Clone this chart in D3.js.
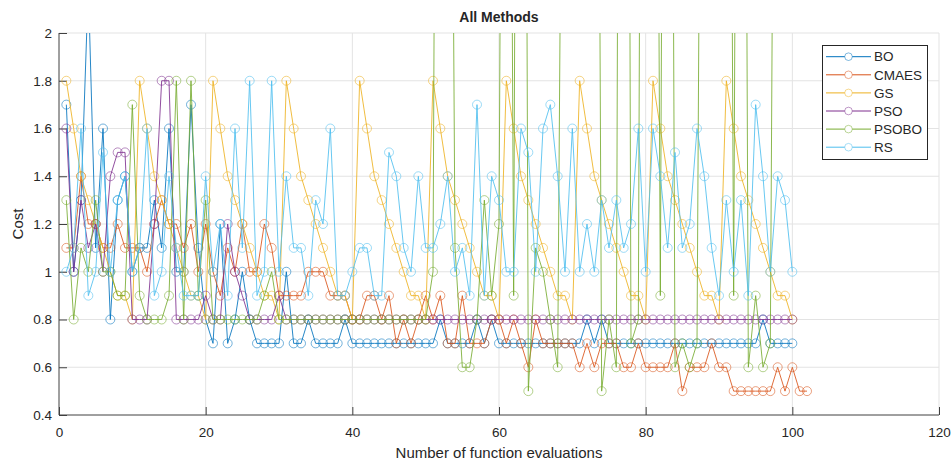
<!DOCTYPE html>
<html>
<head>
<meta charset="utf-8">
<script src="https://cdn.jsdelivr.net/npm/d3@7"></script>
<style>
  body { margin: 0; background: #fff; }
  text { font-family: "Liberation Sans", Arial, sans-serif; fill: #262626; }
</style>
</head>
<body>
<div id="chart"></div>
<script>
// series names + matlab default colours
const methods = ["BO", "CMAES", "GS", "PSO", "PSOBO", "RS"];
const colors = ["#0072BD", "#D95319", "#EDB120", "#7E2F8E", "#77AC30", "#4DBEEE"];

// cost per function evaluation (x = 1, 2, 3 ...)
const bo = [
  1.7, 1.0, 1.3, 2.2, 1.1, 1.6, 0.8, 1.3, 1.4, 1.0,
  1.1, 1.1, 1.3, 1.1, 1.6, 1.0, 1.0, 1.7, 1.1, 0.8,
  0.7, 1.2, 0.7, 0.8, 1.0, 0.8, 0.7, 0.7, 0.7, 0.7,
  1.0, 0.7, 0.7, 0.8, 0.7, 0.7, 0.7, 0.7, 0.8, 0.7,
  0.7, 0.7, 0.7, 0.7, 0.7, 0.7, 0.7, 0.7, 0.7, 0.7,
  0.7, 0.8, 0.7, 0.7, 0.7, 0.7, 0.8, 0.7, 0.8, 0.7,
  0.7, 0.7, 0.7, 0.7, 0.7, 0.7, 0.7, 0.7, 0.7, 0.7,
  0.7, 0.8, 0.7, 0.8, 0.7, 0.7, 0.7, 0.7, 0.7, 0.7,
  0.7, 0.7, 0.7, 0.7, 0.7, 0.7, 0.7, 0.7, 0.7, 0.7,
  0.7, 0.7, 0.7, 0.7, 0.7, 0.8, 0.7, 0.7, 0.7, 0.7
];
const cmaes = [
  1.1, 1.1, 1.4, 1.2, 1.2, 1.1, 1.1, 1.2, 1.1, 1.1,
  1.1, 1.0, 1.2, 1.3, 1.2, 1.2, 1.1, 1.2, 1.0, 1.2,
  1.0, 0.9, 1.1, 1.0, 1.2, 1.0, 1.0, 1.2, 1.1, 0.9,
  0.9, 0.9, 0.9, 1.0, 1.0, 1.0, 0.9, 0.9, 0.9, 0.8,
  0.8, 0.9, 0.9, 0.8, 0.9, 0.7, 0.8, 0.7, 0.8, 0.9,
  0.8, 0.9, 0.7, 0.7, 0.9, 0.7, 0.7, 0.7, 0.8, 0.8,
  0.7, 0.8, 0.7, 0.6, 0.8, 0.7, 0.7, 0.7, 0.7, 0.7,
  0.6, 0.7, 0.6, 0.7, 0.7, 0.7, 0.6, 0.6, 0.7, 0.6,
  0.6, 0.6, 0.6, 0.7, 0.5, 0.6, 0.6, 0.6, 0.7, 0.6,
  0.6, 0.5, 0.5, 0.5, 0.5, 0.5, 0.5, 0.6, 0.5, 0.6,
  0.5, 0.5
];
const gs = [
  1.8, 1.6, 1.4, 1.3, 1.2, 1.1, 1.0, 0.9, 0.9, 0.8,
  1.8, 1.6, 1.4, 1.3, 1.2, 1.1, 1.0, 0.9, 0.9, 0.8,
  1.8, 1.6, 1.4, 1.3, 1.2, 1.1, 1.0, 0.9, 0.9, 0.8,
  1.8, 1.6, 1.4, 1.3, 1.2, 1.1, 1.0, 0.9, 0.9, 0.8,
  1.8, 1.6, 1.4, 1.3, 1.2, 1.1, 1.0, 0.9, 0.9, 0.8,
  1.8, 1.6, 1.4, 1.3, 1.2, 1.1, 1.0, 0.9, 0.9, 0.8,
  1.8, 1.6, 1.4, 1.3, 1.2, 1.1, 1.0, 0.9, 0.9, 0.8,
  1.8, 1.6, 1.4, 1.3, 1.2, 1.1, 1.0, 0.9, 0.9, 0.8,
  1.8, 1.6, 1.4, 1.3, 1.2, 1.1, 1.0, 0.9, 0.9, 0.8,
  1.8, 1.6, 1.4, 1.3, 1.2, 1.1, 1.0, 0.9, 0.9, 0.8
];
const pso = [
  1.6, 1.0, 1.3, 1.1, 1.2, 1.0, 1.4, 1.5, 1.5, 0.8,
  0.8, 0.8, 1.2, 1.8, 1.8, 0.8, 0.8, 0.8, 0.8, 0.9,
  0.8, 0.8, 1.2, 1.0, 0.9, 0.8, 0.8, 0.8, 0.8, 0.9,
  0.8, 0.8, 0.8, 0.8, 0.8, 0.8, 0.8, 0.8, 0.8, 0.8,
  0.8, 0.8, 0.8, 0.8, 0.8, 0.8, 0.8, 0.8, 0.8, 0.8,
  0.8, 0.8, 0.8, 0.8, 0.8, 0.8, 0.8, 0.8, 0.8, 0.8,
  0.8, 0.8, 0.8, 0.8, 0.8, 0.8, 0.8, 0.8, 0.8, 0.8,
  0.8, 0.8, 0.8, 0.8, 0.8, 0.8, 0.8, 0.8, 0.8, 0.8,
  0.8, 0.8, 0.8, 0.8, 0.8, 0.8, 0.8, 0.8, 0.8, 0.8,
  0.8, 0.8, 0.8, 0.8, 0.8, 0.8, 0.8, 0.8, 0.8, 0.8
];
// values above 2 run off the top of the axes
const psobo = [
  1.3, 0.8, 1.1, 1.0, 1.3, 1.0, 1.0, 0.9, 0.9, 1.7,
  0.9, 0.8, 0.8, 0.8, 0.9, 1.8, 0.8, 1.8, 0.9, 1.3,
  0.8, 0.8, 0.8, 0.8, 0.8, 0.8, 0.8, 0.9, 1.0, 0.8,
  0.8, 0.8, 0.8, 0.8, 0.8, 0.8, 0.8, 0.8, 0.8, 0.8,
  0.8, 0.8, 0.8, 0.8, 0.8, 0.8, 0.8, 0.8, 0.8, 0.8,
  1.0, 8.0, 6.0, 1.1, 0.6, 0.6, 0.8, 1.3, 0.9, 1.2,
  7.0, 0.9, 9.0, 0.5, 1.1, 1.0, 0.8, 0.6, 5.0, 8.0,
  6.0, 9.0, 7.0, 0.5, 0.8, 0.6, 10.0, 0.7, 0.8, 9.0,
  7.0, 0.9, 8.0, 0.6, 0.7, 0.6, 0.7, 6.0, 8.0, 9.0,
  7.0, 0.9, 8.0, 0.6, 0.9, 0.6, 0.7, 6.0, 8.0, 7.0
];
const rs = [
  1.0, 1.1, 1.6, 0.9, 1.0, 1.5, 1.0, 1.3, 1.4, 1.0,
  1.1, 1.6, 0.9, 1.0, 1.4, 1.1, 0.9, 0.9, 0.9, 1.4,
  1.0, 1.2, 0.9, 1.6, 1.1, 1.8, 0.9, 1.0, 1.8, 1.0,
  1.4, 1.1, 1.1, 0.9, 1.3, 1.2, 1.6, 0.9, 0.9, 1.0,
  1.1, 1.1, 0.9, 0.9, 1.5, 1.4, 1.1, 1.0, 1.4, 1.1,
  1.1, 1.2, 1.4, 1.0, 1.1, 0.9, 1.7, 0.9, 1.4, 1.3,
  1.0, 1.0, 1.6, 1.5, 1.0, 1.6, 1.7, 1.4, 1.0, 1.6,
  1.0, 1.2, 1.0, 1.3, 1.1, 1.3, 1.1, 1.2, 1.6, 1.0,
  1.6, 1.4, 1.1, 1.5, 1.1, 1.2, 1.6, 1.4, 1.1, 0.9,
  1.3, 1.0, 1.3, 0.9, 1.7, 1.4, 1.0, 1.4, 1.3, 1.0
];

const xTicks = [0, 20, 40, 60, 80, 100, 120];
const yTicks = [0.4, 0.6, 0.8, 1, 1.2, 1.4, 1.6, 1.8, 2];

const allSeries = [bo, cmaes, gs, pso, psobo, rs].map((values, i) => ({
  name: methods[i],
  color: colors[i],
  values: values.map((v, j) => ({ x: j + 1, y: v }))
}));

// svg setup
const width = 951;
const height = 462;
const margin = { top: 33, right: 12, bottom: 47, left: 59 };

const svg = d3
  .select("#chart")
  .append("svg")
  .attr("width", width)
  .attr("height", height);

const xScale = d3.scaleLinear().domain([0, 120]).range([margin.left, width - margin.right]);
const yScale = d3.scaleLinear().domain([0.4, 2]).range([height - margin.bottom, margin.top]);

// grid
svg
  .append("g")
  .selectAll("line")
  .data(xTicks.slice(1))
  .enter()
  .append("line")
  .attr("x1", (d) => xScale(d))
  .attr("x2", (d) => xScale(d))
  .attr("y1", yScale(0.4))
  .attr("y2", yScale(2))
  .attr("stroke", "#e3e3e3");

svg
  .append("g")
  .selectAll("line")
  .data(yTicks.slice(1))
  .enter()
  .append("line")
  .attr("x1", xScale(0))
  .attr("x2", xScale(120))
  .attr("y1", (d) => yScale(d))
  .attr("y2", (d) => yScale(d))
  .attr("stroke", "#e3e3e3");

// axes, ticks pointing inward like matlab
const xAxis = svg
  .append("g")
  .attr("transform", `translate(0, ${yScale(0.4)})`)
  .call(d3.axisTop(xScale).tickValues(xTicks).tickSize(8).tickFormat(d3.format("d")));
xAxis.select(".domain").attr("stroke", "#404040").attr("d", `M${xScale(0)},0H${xScale(120)}`);
xAxis.selectAll(".tick line").attr("stroke", "#404040");
xAxis
  .selectAll(".tick text")
  .attr("y", 22)
  .attr("dy", null)
  .attr("font-size", "13.5px")
  .attr("fill", "#262626");

const yAxis = svg
  .append("g")
  .attr("transform", `translate(${xScale(0)}, 0)`)
  .call(d3.axisRight(yScale).tickValues(yTicks).tickSize(8).tickFormat(d3.format("~g")));
yAxis.select(".domain").attr("stroke", "#404040").attr("d", `M0,${yScale(0.4)}V${yScale(2)}`);
yAxis.selectAll(".tick line").attr("stroke", "#404040");
yAxis
  .selectAll(".tick text")
  .attr("x", -7)
  .attr("text-anchor", "end")
  .attr("font-size", "13.5px")
  .attr("fill", "#262626");

// clip to plot area
svg
  .append("clipPath")
  .attr("id", "plot-clip")
  .append("rect")
  .attr("x", xScale(0))
  .attr("y", yScale(2))
  .attr("width", xScale(120) - xScale(0))
  .attr("height", yScale(0.4) - yScale(2));

const plot = svg.append("g").attr("clip-path", "url(#plot-clip)");

const line = d3
  .line()
  .x((d) => xScale(d.x))
  .y((d) => yScale(d.y));

allSeries.forEach((s) => {
  const g = plot.append("g");
  g.append("path")
    .datum(s.values)
    .attr("fill", "none")
    .attr("stroke", s.color)
    .attr("stroke-opacity", 0.85)
    .attr("stroke-width", 1)
    .attr("d", line);

  g.selectAll("circle")
    .data(s.values)
    .enter()
    .append("circle")
    .attr("cx", (d) => xScale(d.x))
    .attr("cy", (d) => yScale(d.y))
    .attr("r", 4.5)
    .attr("fill", "none")
    .attr("stroke", s.color)
    .attr("stroke-opacity", 0.55)
    .attr("stroke-width", 1);
});

// labels
svg
  .append("text")
  .attr("x", (xScale(0) + xScale(120)) / 2)
  .attr("y", 22)
  .attr("text-anchor", "middle")
  .attr("font-size", "14px")
  .attr("font-weight", "bold")
  .text("All Methods");

svg
  .append("text")
  .attr("x", (xScale(0) + xScale(120)) / 2)
  .attr("y", 458)
  .attr("text-anchor", "middle")
  .attr("font-size", "15px")
  .text("Number of function evaluations");

svg
  .append("text")
  .attr("transform", "rotate(-90)")
  .attr("x", -(yScale(0.4) + yScale(2)) / 2)
  .attr("y", 23)
  .attr("text-anchor", "middle")
  .attr("font-size", "15px")
  .text("Cost");

// legend
const legend = svg.append("g").attr("transform", "translate(822, 45)");

legend
  .append("rect")
  .attr("x", 0.5)
  .attr("y", 0.5)
  .attr("width", 105)
  .attr("height", 114)
  .attr("fill", "#fff")
  .attr("stroke", "#262626");

const legendItem = legend
  .selectAll(".legend-item")
  .data(allSeries)
  .enter()
  .append("g")
  .attr("class", "legend-item")
  .attr("transform", (d, i) => `translate(0, ${11.7 + i * 18.1})`);

legendItem
  .append("line")
  .attr("x1", 4)
  .attr("x2", 49)
  .attr("stroke", (d) => d.color);

legendItem
  .append("circle")
  .attr("cx", 26.5)
  .attr("r", 3.8)
  .attr("fill", "#fff")
  .attr("stroke", (d) => d.color)
  .attr("stroke-opacity", 0.5);

legendItem
  .append("text")
  .attr("x", 52)
  .attr("dy", "0.35em")
  .attr("font-size", "13.5px")
  .text((d) => d.name);
</script>
</body>
</html>
